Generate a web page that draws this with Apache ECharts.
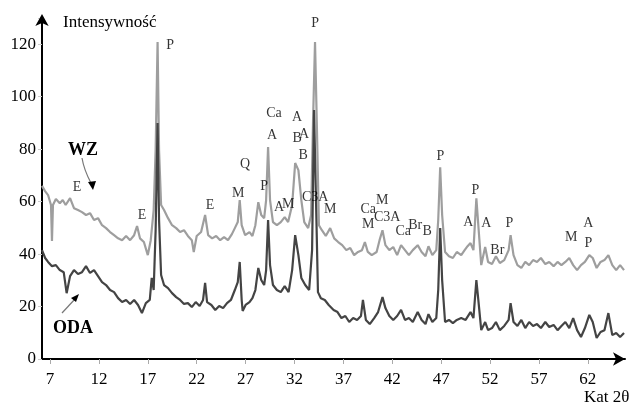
<!DOCTYPE html>
<html lang="pl">
<head>
    <meta charset="UTF-8">
    <script src="https://cdn.jsdelivr.net/npm/echarts@6/dist/echarts.min.js"></script>
    <title>Intensywność XRD</title>
    <style>
        html, body { margin: 0; padding: 0; background: #fff; }
        #main { width: 631px; height: 406px; }
    </style>
</head>
<body>
<div id="main"></div>
<script type="text/javascript">
    // kat 2theta / intensywnosc
    var wzAngle = [6.18, 6.49, 6.8, 7.1, 7.2, 7.3, 7.6, 8.0, 8.3, 8.6, 9.05, 9.45, 9.86, 10.27, 10.68, 11.09, 11.5, 11.91, 12.32, 12.73,
        13.14, 13.55, 13.96, 14.37, 14.78, 15.19, 15.6, 15.9, 16.2, 16.6, 17.0, 17.3, 17.6, 17.8, 18.0, 18.15, 18.36, 18.66, 19.07, 19.48,
        19.9, 20.3, 20.7, 21.1, 21.5, 21.7, 22.0, 22.45, 22.86, 23.17, 23.58, 23.99, 24.4, 24.8, 25.2, 25.6, 25.9, 26.2, 26.4, 26.6,
        26.95, 27.4, 27.7, 28.0, 28.3, 28.6, 28.9, 29.1, 29.3, 29.5, 29.8, 30.2, 30.6, 31.0, 31.35, 31.76, 32.07, 32.4, 32.7, 33.0,
        33.4, 33.7, 33.9, 34.1, 34.3, 34.5, 34.8, 35.2, 35.65, 36.06, 36.47, 36.88, 37.3, 37.7, 38.1, 38.5, 38.9, 39.2, 39.5, 39.9,
        40.4, 40.7, 41.0, 41.3, 41.7, 42.1, 42.5, 42.9, 43.3, 43.7, 44.1, 44.6, 45.0, 45.4, 45.7, 46.1, 46.5, 46.7, 46.9, 47.1,
        47.4, 47.8, 48.2, 48.6, 49.05, 49.4, 49.7, 50.0, 50.3, 50.6, 50.8, 51.1, 51.5, 51.8, 52.2, 52.6, 53.0, 53.45, 53.9, 54.1,
        54.4, 54.8, 55.2, 55.6, 56.0, 56.4, 56.8, 57.2, 57.65, 58.05, 58.5, 58.9, 59.3, 59.7, 60.1, 60.5, 60.9, 61.3, 61.7, 62.15,
        62.5, 62.9, 63.3, 63.7, 64.1, 64.5, 64.9, 65.3, 65.7];
    var wzValue = [66, 64, 62.5, 58.7, 45, 58.7, 61, 59.4, 60.6, 58.7, 61.3, 57.5, 56.8, 56, 54.9, 55.6, 53, 53.7, 51, 49.9,
        48.4, 47.2, 46, 45.3, 46.9, 45.3, 47.2, 50.7, 46, 44.6, 39.6, 45.3, 56.8, 79.6, 120.8, 79.6, 58.7, 56.8, 53.7, 51,
        49.9, 48.4, 49.1, 46.9, 45.3, 40.8, 46.9, 48.4, 54.9, 47.2, 46, 46.9, 45.3, 46.5, 45.3, 47.6, 49.9, 52.2, 60.6, 51,
        47.2, 48.4, 46.9, 51, 59.8, 54.9, 53.7, 60.6, 80.8, 60.6, 52.2, 51, 52.2, 54.1, 52.2, 58.7, 74.7, 72, 60.6, 52.2,
        49.9, 54.9, 91, 120.8, 87, 51, 49.1, 46.9, 49.9, 46, 44.6, 43.4, 41.5, 42.3, 39.6, 40.8, 41.5, 44.6, 40.8, 39.6,
        40.8, 45.3, 49.1, 43.4, 41.5, 42.7, 39.6, 43.4, 41.5, 39.6, 41.5, 43.4, 40.8, 39.2, 43, 39.6, 41.5, 53, 73.1, 54.9,
        40.8, 39.2, 38.5, 40.8, 39.6, 41.5, 43, 44.2, 41.5, 61.3, 51, 35.8, 42.7, 37, 36.2, 39.2, 36.6, 37.7, 41.5, 47.2,
        39.6, 35.8, 34.7, 37, 35.8, 37.7, 37, 38.5, 36.2, 37, 35.4, 37, 35.8, 37, 38.5, 35.8, 33.9, 35.8, 37, 39.6,
        38.5, 34.7, 37, 37.7, 39.6, 35.8, 33.9, 35.8, 33.9];

    var odaAngle = [6.18, 6.5, 6.8, 7.2, 7.6, 8.0, 8.4, 8.7, 9.05, 9.45, 9.86, 10.27, 10.68, 11.09, 11.5, 11.91, 12.32, 12.73, 13.14, 13.55,
        13.96, 14.37, 14.78, 15.19, 15.6, 16.0, 16.4, 16.8, 17.2, 17.4, 17.6, 17.8, 18.0, 18.15, 18.36, 18.66, 19.07, 19.48, 19.9, 20.3,
        20.7, 21.1, 21.5, 21.9, 22.3, 22.65, 22.86, 23.06, 23.5, 23.9, 24.3, 24.7, 25.1, 25.5, 25.9, 26.2, 26.4, 26.6, 26.7, 27.0,
        27.4, 27.7, 28.0, 28.3, 28.6, 28.9, 29.1, 29.3, 29.5, 29.8, 30.2, 30.6, 31.0, 31.4, 31.76, 32.07, 32.4, 32.7, 33.1, 33.5,
        33.8, 34.0, 34.2, 34.4, 34.7, 35.1, 35.5, 36.0, 36.4, 36.8, 37.2, 37.6, 38.0, 38.4, 38.8, 39.0, 39.3, 39.7, 40.15, 40.55,
        41.0, 41.3, 41.7, 42.1, 42.5, 42.9, 43.3, 43.7, 44.1, 44.6, 45.0, 45.4, 45.7, 46.1, 46.5, 46.7, 46.9, 47.1, 47.4, 47.8,
        48.2, 48.6, 49.05, 49.5, 50.0, 50.3, 50.6, 50.8, 51.1, 51.5, 51.8, 52.2, 52.6, 53.0, 53.45, 53.9, 54.1, 54.4, 54.8, 55.2,
        55.6, 56.0, 56.4, 56.8, 57.2, 57.65, 58.05, 58.5, 58.9, 59.3, 59.7, 60.1, 60.5, 60.9, 61.3, 61.7, 62.15, 62.5, 62.9, 63.3,
        63.7, 64.1, 64.5, 64.9, 65.3, 65.7];
    var odaValue = [41.5, 38.5, 37, 35.4, 35.8, 33.9, 33.1, 25.1, 31.6, 33.9, 32.4, 33.1, 35.4, 32.8, 33.9, 31.6, 29.3, 28.2, 26.3, 25.5,
        23.2, 21.7, 22.5, 21, 22.5, 20.6, 17.5, 21.3, 22.5, 30.9, 26.3, 49.1, 90, 53, 32, 28.2, 27, 25.1, 23.6, 22.5,
        21, 21.3, 19.8, 21.7, 20.2, 22.5, 29, 21.7, 20.6, 18.7, 20.2, 19.4, 21.3, 22.5, 26.3, 29.3, 37, 22.5, 18.3, 20.6,
        21.7, 23.2, 26.3, 34.7, 30.1, 28.2, 33.9, 53, 35.8, 28.2, 26.3, 25.5, 27.8, 25.5, 33.9, 47.2, 39.6, 30.9, 28.2, 26.3,
        41.5, 94.9, 60.6, 25.5, 23.2, 22.5, 20.6, 18.7, 17.9, 15.6, 16.4, 14.1, 15.6, 14.9, 16.4, 22.5, 14.9, 13.3, 15.6, 17.9,
        23.6, 19.4, 16.4, 14.9, 16.4, 18.7, 14.9, 15.6, 14.1, 17.9, 14.9, 13.3, 17.1, 14.1, 15.6, 26.3, 49.9, 30.1, 14.1, 14.9,
        13.7, 14.9, 15.6, 14.9, 17.9, 15.6, 30.1, 22.5, 11, 14.1, 11, 11.8, 14.1, 11, 12.6, 14.9, 21.3, 14.1, 12.6, 14.9,
        11.8, 14.1, 12.6, 13.3, 11.8, 14.1, 12.2, 13, 11, 12.6, 14.1, 11.8, 15.6, 11, 8.4, 11.8, 16.8, 14.1, 8, 10.3,
        11, 17.5, 9.1, 9.9, 8.4, 9.9];

    var xTicks = [7, 12, 17, 22, 27, 32, 37, 42, 47, 52, 57, 62];

    // oznaczenia faz nad refleksami: tekst, kat, wysokosc
    var tagText = ['P', 'P', 'E', 'E', 'E', 'M', 'Q', 'P', 'A', 'Ca', 'A', 'B', 'A', 'B', 'A', 'M', 'C3A', 'M',
        'Ca', 'M', 'M', 'C3A', 'Ca', 'Br', 'B', 'P', 'A', 'P', 'A', 'Br', 'P', 'M', 'A', 'P'];
    var tagAngle = [19.28, 34.12, 9.76, 16.41, 23.37, 26.24, 26.95, 28.9, 29.7, 29.9, 32.27, 32.27, 32.99, 32.89, 30.43, 31.35, 34.12, 35.65,
        39.54, 40.97, 39.54, 41.48, 43.12, 44.35, 45.58, 46.91, 49.77, 50.49, 51.61, 52.74, 53.97, 60.31, 62.05, 62.05];
    var tagValue = [119.6, 128, 65.5, 54.9, 58.7, 63.2, 74.3, 65.9, 85.3, 93.7, 92.2, 84.2, 85.7, 77.7, 57.9, 59, 61.7, 57.1,
        57.1, 60.6, 51.4, 54.1, 48.8, 51, 48.8, 77.3, 52.2, 64.4, 51.8, 41.5, 51.8, 46.5, 51.8, 44.2];

    function pairs(a, b) {
        var out = [];
        for (var i = 0; i < a.length; i++) {
            out.push([a[i], b[i]]);
        }
        return out;
    }

    var tags = [];
    for (var i = 0; i < tagText.length; i++) {
        tags.push([tagAngle[i], tagValue[i], tagText[i]]);
    }

    var serif = '"Liberation Serif", "DejaVu Serif", serif';

    var myChart = echarts.init(document.getElementById('main'), null, {renderer: 'canvas'});
    var option = {
        animation: false,
        backgroundColor: '#fff',
        grid: {
            left: 42,
            right: 6,
            top: 18,
            bottom: 47
        },
        xAxis: {
            type: 'value',
            min: 6.18,
            max: 65.8,
            splitLine: { show: false },
            axisLine: {
                symbol: ['none', 'arrow'],
                symbolSize: [10, 12],
                lineStyle: { color: '#000', width: 2 }
            },
            axisTick: {
                customValues: xTicks,
                length: 5,
                lineStyle: { color: '#aaa' }
            },
            axisLabel: {
                customValues: xTicks,
                margin: 12,
                color: '#000',
                fontFamily: serif,
                fontSize: 17
            }
        },
        yAxis: {
            type: 'value',
            min: 0,
            max: 130,
            interval: 20,
            splitLine: { show: false },
            axisLine: {
                show: true,
                symbol: ['none', 'arrow'],
                symbolSize: [10, 12],
                symbolOffset: [0, 4],
                lineStyle: { color: '#000', width: 2 }
            },
            axisTick: {
                show: true,
                length: 4,
                lineStyle: { color: '#ccc' }
            },
            axisLabel: {
                margin: 6,
                color: '#000',
                fontFamily: serif,
                fontSize: 17,
                formatter: function (v) { return v > 125 ? '' : v; }
            }
        },
        series: [
            {
                name: 'WZ',
                type: 'line',
                data: pairs(wzAngle, wzValue),
                showSymbol: false,
                lineStyle: { color: '#9e9e9e', width: 2.2 },
                z: 2
            },
            {
                name: 'ODA',
                type: 'line',
                data: pairs(odaAngle, odaValue),
                showSymbol: false,
                lineStyle: { color: '#444', width: 2.2 },
                z: 3
            },
            {
                name: 'fazy',
                type: 'scatter',
                data: tags,
                symbolSize: 1,
                itemStyle: { color: 'rgba(0,0,0,0)' },
                label: {
                    show: true,
                    position: 'inside',
                    color: '#000',
                    fontFamily: serif,
                    fontSize: 14,
                    formatter: function (p) { return p.value[2]; }
                },
                z: 5
            }
        ],
        graphic: [
            { type: 'text', x: 63, y: 23, style: { text: 'Intensywność', font: '17px ' + serif, fill: '#000', textVerticalAlign: 'middle' } },
            { type: 'text', x: 584, y: 398, style: { text: 'Kat 2θ', font: '17px ' + serif, fill: '#000', textVerticalAlign: 'middle' } },
            { type: 'text', x: 83, y: 150, style: { text: 'WZ', font: 'bold 18px ' + serif, fill: '#000', textAlign: 'center', textVerticalAlign: 'middle' } },
            { type: 'text', x: 73, y: 328, style: { text: 'ODA', font: 'bold 18px ' + serif, fill: '#000', textAlign: 'center', textVerticalAlign: 'middle' } },
            // strzalki do krzywych
            { type: 'bezierCurve', shape: { x1: 82, y1: 158, x2: 91, y2: 183, cpx1: 84, cpy1: 170 }, style: { stroke: '#777', lineWidth: 1.2, fill: null } },
            { type: 'polygon', shape: { points: [[88, 182], [96, 181], [93, 190]] }, style: { fill: '#000' } },
            { type: 'line', shape: { x1: 62, y1: 313, x2: 75, y2: 299 }, style: { stroke: '#777', lineWidth: 1.2 } },
            { type: 'polygon', shape: { points: [[71, 298], [79, 294], [76, 302]] }, style: { fill: '#000' } }
        ]
    };
    myChart.setOption(option);
</script>
</body>
</html>
